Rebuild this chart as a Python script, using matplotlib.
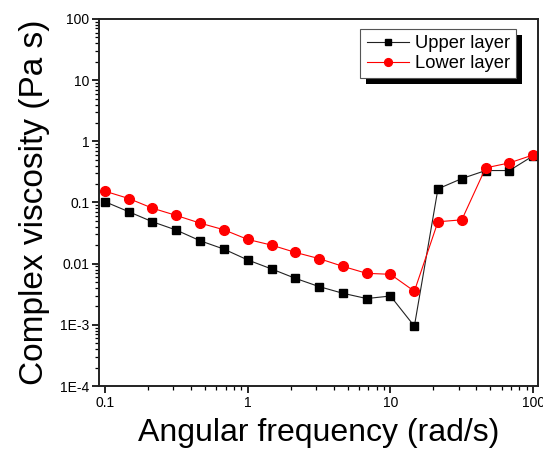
import numpy as np
import matplotlib.pyplot as plt
from matplotlib.patches import Rectangle
from matplotlib.ticker import FixedLocator, LogLocator, NullFormatter

plt.rcParams['font.family'] = ['Liberation Sans', 'DejaVu Sans']

freq = [0.1, 0.147, 0.215, 0.316, 0.464, 0.681, 1.0, 1.47, 2.15, 3.16,
        4.64, 6.81, 10.0, 14.7, 21.5, 31.6, 46.4, 68.1, 100.0]
upper = [0.103, 0.0705, 0.0484, 0.0354, 0.0237, 0.0173, 0.0115, 0.00819,
         0.00577, 0.00422, 0.00328, 0.00269, 0.00296, 0.00095, 0.167,
         0.246, 0.333, 0.333, 0.58]
lower = [0.153, 0.116, 0.0807, 0.0614, 0.046, 0.0358, 0.0249, 0.0201,
         0.0153, 0.0121, 0.00904, 0.00695, 0.0067, 0.00354, 0.0484,
         0.0521, 0.368, 0.444, 0.6]

x_ticks = [0.1, 1, 10, 100]
x_labels = ['0.1', '1', '10', '100']
y_ticks = [1e-4, 1e-3, 0.01, 0.1, 1, 10, 100]
y_labels = ['1E-4', '1E-3', '0.01', '0.1', '1', '10', '100']

fig = plt.figure(figsize=(5.43, 4.49), dpi=100)
ax = fig.add_axes([0.1823, 0.1403, 0.8085, 0.8174])

ax.plot(freq, upper, color='#222222', lw=0.8, marker='s', ms=6,
        mfc='black', mec='black', label='Upper layer')
ax.plot(freq, lower, color='red', lw=0.8, marker='o', ms=7,
        mfc='red', mec='red', label='Lower layer')

ax.set_xscale('log')
ax.set_yscale('log')
ax.set_xlim(0.0908, 108)
ax.set_ylim(1e-4, 100)

ax.xaxis.set_major_locator(FixedLocator(x_ticks))
ax.set_xticklabels(x_labels)
ax.yaxis.set_major_locator(FixedLocator(y_ticks))
ax.set_yticklabels(y_labels)
ax.xaxis.set_minor_locator(LogLocator(base=10, subs=np.arange(2, 10)))
ax.yaxis.set_minor_locator(LogLocator(base=10, subs=np.arange(2, 10)))
ax.xaxis.set_minor_formatter(NullFormatter())
ax.yaxis.set_minor_formatter(NullFormatter())

ax.tick_params(which='major', direction='out', length=5, width=1.2,
               labelsize=10, pad=2)
ax.tick_params(which='minor', direction='out', length=3, width=0.9)
for s in ax.spines.values():
    s.set_linewidth(1.4)
    s.set_color('#222222')

ax.set_xlabel('Angular frequency (rad/s)', fontsize=23, labelpad=6)
ax.set_ylabel('Complex viscosity (Pa s)', fontsize=24, labelpad=7)

leg = ax.legend(loc='upper right', bbox_to_anchor=(0.95, 0.973),
                fontsize=13.2, frameon=True, fancybox=False, framealpha=1,
                markerscale=0.8, handlelength=2.3, handletextpad=0.3,
                borderpad=0.35, labelspacing=0.15, borderaxespad=0)
leg.get_frame().set_edgecolor('#555555')
leg.get_frame().set_linewidth(0.8)
leg.set_zorder(10)

# black drop shadow behind the legend box
fig.canvas.draw()
bb = leg.get_window_extent().transformed(fig.transFigure.inverted())
dx, dy = 6 / 543, 6 / 449
ax.add_patch(Rectangle((bb.x0 + dx, bb.y0 - dy), bb.width, bb.height,
                       transform=fig.transFigure, facecolor='black',
                       edgecolor='none', zorder=9, clip_on=False))

fig.savefig('out.png', dpi=100)
